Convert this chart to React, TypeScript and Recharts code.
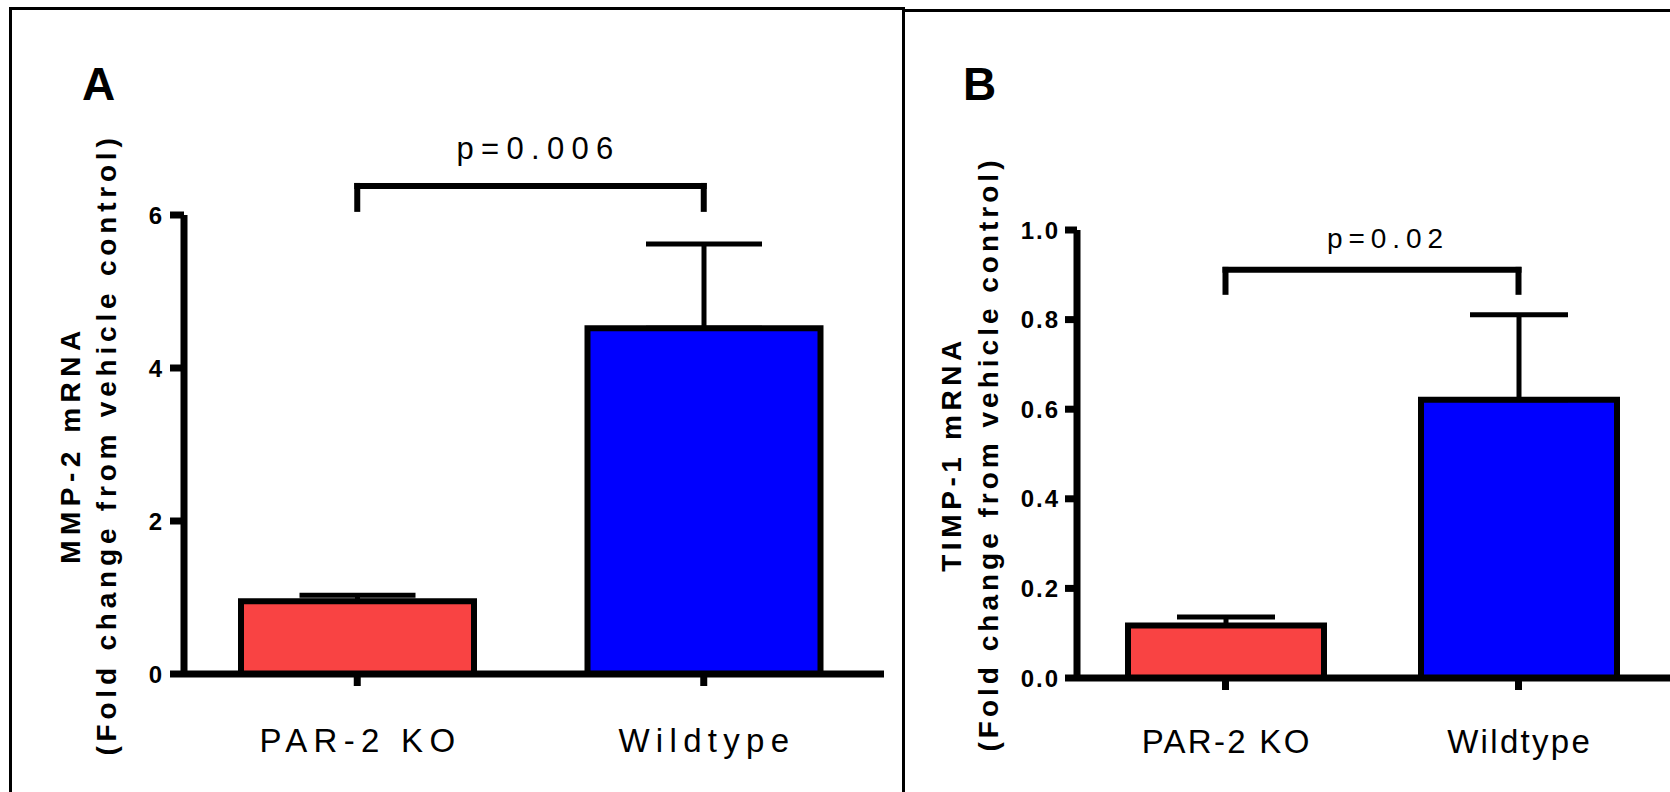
import React from "react";
import { BarChart, Bar, XAxis, YAxis, ErrorBar, ReferenceLine, Cell } from "recharts";

// groups on the x axis
const groups = ["PAR-2 KO", "Wildtype"];
const barColors = ["#F94343", "#0000FF"];

// panel A: MMP-2 mRNA, mean and SEM (upper whisker only)
const mmp2Mean = [0.95, 4.52];
const mmp2Sem = [0.08, 1.1];
const mmp2Ticks = [0, 2, 4, 6];
const mmp2P = "p=0.006";

// panel B: TIMP-1 mRNA
const timp1Mean = [0.117, 0.621];
const timp1Sem = [0.019, 0.19];
const timp1Ticks = [0, 0.2, 0.4, 0.6, 0.8, 1.0];
const timp1P = "p=0.02";

const FONT = "'Liberation Sans', Arial, sans-serif";

const makeRows = (means: number[], sems: number[]) =>
  groups.map((g, i) => ({ group: g, mean: means[i], err: [0, sems[i]] }));

const Txt = ({ x, y, anchor = "middle", size, weight = "normal", spacing = 0, children }: any) => (
  <text
    x={x}
    y={y}
    textAnchor={anchor}
    fontSize={size}
    fontWeight={weight}
    letterSpacing={spacing}
    fontFamily={FONT}
    fill="#000"
  >
    {children}
  </text>
);

const catTick = (dy: number, size: number, spacing: number) => (props: any) => (
  <Txt x={props.x + spacing / 2} y={props.y + dy} size={size} spacing={spacing}>
    {props.payload.value}
  </Txt>
);

const valTick = (size: number, digits: number, spacing: number) => (props: any) => (
  <Txt x={props.x + spacing} y={props.y + size * 0.36} anchor="end" size={size} weight="bold" spacing={spacing}>
    {Number(props.payload.value).toFixed(digits)}
  </Txt>
);

const axisTitle = (line1: string, line2: string, x1: number, x2: number, sp1: number, sp2: number) => (props: any) => {
  const vb = props.viewBox;
  const cy = vb.y + vb.height / 2;
  return (
    <g>
      <text
        transform={`translate(${vb.x + x1},${cy}) rotate(-90)`}
        textAnchor="middle"
        fontSize={28}
        fontWeight="bold"
        letterSpacing={sp1}
        fontFamily={FONT}
        fill="#000"
      >
        {line1}
      </text>
      <text
        transform={`translate(${vb.x + x2},${cy}) rotate(-90)`}
        textAnchor="middle"
        fontSize={28}
        fontWeight="bold"
        letterSpacing={sp2}
        fontFamily={FONT}
        fill="#000"
      >
        {line2}
      </text>
    </g>
  );
};

const pLabel = (text: string, dx: number, lift: number, size: number, spacing: number) => (props: any) => {
  const vb = props.viewBox;
  return (
    <Txt x={vb.x + vb.width / 2 + dx} y={vb.y - lift} size={size} spacing={spacing}>
      {text}
    </Txt>
  );
};

const Panel = ({
  rows,
  ticks,
  domain,
  width,
  height,
  axisW,
  top,
  right,
  bottom,
  padding,
  barSize,
  capW,
  bracketTop,
  bracketLeg,
  p,
  pDx,
  pLift,
  pSize,
  pSpacing,
  catDy,
  catSize,
  catSpacing,
  tickSizeY,
  tickMarginY,
  tickFont,
  tickSpacing,
  digits,
  title,
}: any) => (
  <BarChart width={width} height={height} data={rows} margin={{ top, right, bottom: 0, left: 0 }}>
    <XAxis
      dataKey="group"
      height={bottom}
      padding={padding}
      axisLine={{ stroke: "#000", strokeWidth: 7 }}
      tickLine={{ stroke: "#000", strokeWidth: 7 }}
      tickSize={12}
      tickMargin={0}
      tick={catTick(catDy, catSize, catSpacing)}
      interval={0}
    />
    <YAxis
      width={axisW}
      domain={domain}
      ticks={ticks}
      axisLine={{ stroke: "#000", strokeWidth: 7 }}
      tickLine={{ stroke: "#000", strokeWidth: 7 }}
      tickSize={tickSizeY}
      tickMargin={tickMarginY}
      tick={valTick(tickFont, digits, tickSpacing)}
      interval={0}
      label={{ content: title }}
    />
    <Bar dataKey="mean" barSize={barSize} stroke="#000" strokeWidth={6} isAnimationActive={false}>
      {rows.map((r: any, i: number) => (
        <Cell key={r.group} fill={barColors[i]} />
      ))}
      <ErrorBar dataKey="err" width={capW} stroke="#000" strokeWidth={5} direction="y" />
    </Bar>
    <ReferenceLine
      segment={[
        { x: groups[0], y: bracketTop },
        { x: groups[1], y: bracketTop },
      ]}
      stroke="#000"
      strokeWidth={6}
      strokeLinecap="square"
      ifOverflow="visible"
      label={{ content: pLabel(p, pDx, pLift, pSize, pSpacing) }}
    />
    {groups.map((g) => (
      <ReferenceLine
        key={g}
        segment={[
          { x: g, y: bracketTop },
          { x: g, y: bracketLeg },
        ]}
        stroke="#000"
        strokeWidth={6}
        strokeLinecap="square"
        ifOverflow="visible"
      />
    ))}
  </BarChart>
);

export default function App() {
  return (
    <div style={{ position: "absolute", left: 0, top: 0, width: 1670, height: 792, overflow: "hidden", background: "#fff" }}>
      <div style={{ position: "absolute", left: 9, top: 7, width: 896, height: 820, border: "3px solid #000", boxSizing: "border-box" }} />
      <div style={{ position: "absolute", left: 902, top: 9, width: 820, height: 820, border: "3px solid #000", boxSizing: "border-box" }} />
      <div style={{ position: "absolute", left: 0, top: 0 }}>
        <Panel
          rows={makeRows(mmp2Mean, mmp2Sem)}
          ticks={mmp2Ticks}
          domain={[0, 6]}
          width={905}
          height={792}
          axisW={184}
          top={215}
          right={21}
          bottom={118}
          padding={{ left: 0, right: 7 }}
          barSize={233}
          capW={58}
          bracketTop={6.38}
          bracketLeg={6.08}
          p={mmp2P}
          pDx={8}
          pLift={27}
          pSize={31}
          pSpacing={7.3}
          catDy={66}
          catSize={33}
          catSpacing={6.3}
          tickSizeY={14}
          tickMarginY={8}
          tickFont={24}
          tickSpacing={1}
          digits={0}
          title={axisTitle("MMP-2 mRNA", "(Fold change from vehicle control)", 80, 116, 5.5, 4.8)}
        />
      </div>
      <div style={{ position: "absolute", left: 905, top: 0 }}>
        <Panel
          rows={makeRows(timp1Mean, timp1Sem)}
          ticks={timp1Ticks}
          domain={[0, 1]}
          width={765}
          height={792}
          axisW={172}
          top={230}
          right={0}
          bottom={114}
          padding={{ left: 2, right: 5 }}
          barSize={196}
          capW={49}
          bracketTop={0.911}
          bracketLeg={0.862}
          p={timp1P}
          pDx={16}
          pLift={22}
          pSize={28}
          pSpacing={5.9}
          catDy={63}
          catSize={33}
          catSpacing={2.3}
          tickSizeY={12}
          tickMarginY={7}
          tickFont={24}
          tickSpacing={2}
          digits={1}
          title={axisTitle("TIMP-1 mRNA", "(Fold change from vehicle control)", 56, 93, 4.6, 4)}
        />
      </div>
      <svg width={1670} height={792} style={{ position: "absolute", left: 0, top: 0, pointerEvents: "none" }}>
        <text x={82} y={100} fontSize={46} fontWeight="bold" fontFamily={FONT}>A</text>
        <text x={963} y={100} fontSize={46} fontWeight="bold" fontFamily={FONT}>B</text>
      </svg>
    </div>
  );
}
